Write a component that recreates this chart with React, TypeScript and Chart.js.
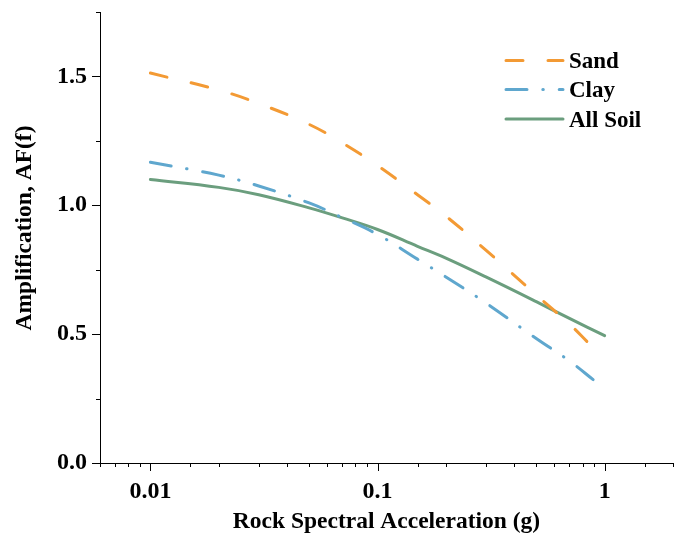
import React, { useEffect, useRef } from "react";
import { Chart, registerables } from "chart.js";

Chart.register(...registerables);

// ---- data ----
const sandAccel = [0.01, 0.02, 0.03, 0.05, 0.07, 0.1, 0.15, 0.2, 0.3, 0.5, 0.7, 0.85];
const sandAF = [1.513, 1.447, 1.395, 1.314, 1.242, 1.154, 1.041, 0.958, 0.826, 0.652, 0.539, 0.465];

const clayAccel = [0.01, 0.02, 0.03, 0.05, 0.07, 0.1, 0.15, 0.2, 0.3, 0.5, 0.7, 0.9];
const clayAF = [1.167, 1.117, 1.075, 1.009, 0.952, 0.887, 0.791, 0.722, 0.621, 0.483, 0.396, 0.32];

const allAccel = [0.01, 0.02, 0.03, 0.05, 0.07, 0.1, 0.15, 0.2, 0.3, 0.5, 0.7, 1.0];
const allAF = [1.1, 1.0695, 1.041, 0.99, 0.951, 0.906, 0.841, 0.795, 0.722, 0.626, 0.561, 0.494];

const seriesLabels = ["Sand", "Clay", "All Soil"];
const xTitle = "Rock Spectral Acceleration (g)";
const yTitle = "Amplification, AF(f)";

const FONT = "'Liberation Serif', 'Times New Roman', serif";

const toPoints = (xs: number[], ys: number[]) => xs.map((x, i) => ({ x, y: ys[i] }));

const isDecade = (v: number) => {
  const l = Math.log10(v);
  return Math.abs(l - Math.round(l)) < 1e-9;
};
const isHalf = (v: number) => Math.abs(v * 2 - Math.round(v * 2)) < 1e-9;

const tickMarks = {
  id: "tickMarks",
  afterDraw(chart: any) {
    const { ctx, chartArea } = chart;
    const xs = chart.scales.x;
    const ys = chart.scales.y;
    ctx.save();
    ctx.strokeStyle = "#000";
    ctx.lineWidth = 1;
    ctx.beginPath();
    xs.ticks.forEach((t: any) => {
      const px = Math.round(xs.getPixelForValue(t.value)) + 0.5;
      const len = isDecade(t.value) ? 8 : 4;
      ctx.moveTo(px, chartArea.bottom);
      ctx.lineTo(px, chartArea.bottom + len);
    });
    ys.ticks.forEach((t: any) => {
      const py = Math.round(ys.getPixelForValue(t.value)) + 0.5;
      const len = isHalf(t.value) ? 8 : 4;
      ctx.moveTo(chartArea.left, py);
      ctx.lineTo(chartArea.left - len, py);
    });
    ctx.stroke();
    ctx.restore();
  },
};

const yTitlePlugin = {
  id: "yTitlePlugin",
  afterDraw(chart: any) {
    const { ctx } = chart;
    ctx.save();
    ctx.translate(25, 228);
    ctx.rotate(-Math.PI / 2);
    ctx.fillStyle = "#000";
    ctx.font = `bold 23.5px ${FONT}`;
    ctx.textAlign = "center";
    ctx.textBaseline = "middle";
    ctx.fillText(yTitle, 0, 0);
    ctx.restore();
  },
};

const legendLines = {
  id: "legendLines",
  afterDraw(chart: any) {
    const { ctx } = chart;
    const x0 = 506;
    const x1 = 563;
    const rows = [60.5, 89.5, 119];
    ctx.save();
    chart.data.datasets.forEach((ds: any, i: number) => {
      const y = rows[i];
      ctx.beginPath();
      ctx.strokeStyle = ds.borderColor;
      ctx.lineWidth = ds.borderWidth;
      ctx.lineCap = "round";
      ctx.setLineDash(ds.borderDash || []);
      ctx.moveTo(x0, y);
      ctx.lineTo(x1, y);
      ctx.stroke();
      ctx.setLineDash([]);
      ctx.fillStyle = "#000";
      ctx.font = `bold 23px ${FONT}`;
      ctx.textAlign = "left";
      ctx.textBaseline = "middle";
      ctx.fillText(ds.label, 569, y + 2);
    });
    ctx.restore();
  },
};

export default function App() {
  const ref = useRef<HTMLCanvasElement>(null);
  useEffect(() => {
    const chart = new Chart(ref.current as HTMLCanvasElement, {
      type: "line",
      data: {
        datasets: [
          {
            label: seriesLabels[0],
            data: toPoints(sandAccel, sandAF),
            borderColor: "#F39A34",
            borderWidth: 3,
            borderDash: [17, 25],
            borderCapStyle: "round",
            pointRadius: 0,
            tension: 0.4,
            fill: false,
          },
          {
            label: seriesLabels[1],
            data: toPoints(clayAccel, clayAF),
            borderColor: "#5FA7CE",
            borderWidth: 3,
            borderDash: [21, 15.8, 0.5, 15.9],
            borderCapStyle: "round",
            pointRadius: 0,
            tension: 0.4,
            fill: false,
          },
          {
            label: seriesLabels[2],
            data: toPoints(allAccel, allAF),
            borderColor: "#6B9E7E",
            borderWidth: 3,
            borderCapStyle: "round",
            pointRadius: 0,
            tension: 0.4,
            fill: false,
          },
        ],
      } as any,
      options: {
        animation: false,
        responsive: false,
        devicePixelRatio: 1,
        layout: { padding: { left: 0, top: 12, right: 9, bottom: 0 } },
        plugins: {
          legend: { display: false },
          tooltip: { enabled: false },
        },
        scales: {
          x: {
            type: "logarithmic",
            min: 0.006,
            max: 2,
            grid: { display: false, drawTicks: false, tickLength: 0 },
            border: { display: true, color: "#000", width: 1 },
            ticks: {
              autoSkip: false,
              maxRotation: 0,
              padding: 14,
              color: "#000",
              font: { family: FONT, size: 24, weight: "bold" },
              callback: (v: any) => (isDecade(Number(v)) ? String(Number(v)) : ""),
            },
            title: {
              display: true,
              text: xTitle,
              color: "#000",
              font: { family: FONT, size: 23.5, weight: "bold" },
              padding: { top: 0, bottom: 3 },
            },
            afterFit: (s: any) => {
              s.height = 76;
              s.paddingLeft = 0;
              s.paddingRight = 0;
            },
          },
          y: {
            type: "linear",
            min: 0,
            max: 1.75,
            grid: { display: false, drawTicks: false, tickLength: 0 },
            border: { display: true, color: "#000", width: 1 },
            ticks: {
              stepSize: 0.25,
              autoSkip: false,
              padding: 13,
              color: "#000",
              font: { family: FONT, size: 24, weight: "bold" },
              callback: (v: any) => (isHalf(Number(v)) ? Number(v).toFixed(1) : ""),
            },
            title: { display: false },
            afterFit: (s: any) => {
              s.width = 100;
              s.paddingTop = 0;
              s.paddingBottom = 0;
            },
          },
        },
      } as any,
      plugins: [tickMarks, yTitlePlugin, legendLines],
    });
    return () => chart.destroy();
  }, []);
  return (
    <div style={{ position: "fixed", left: 0, top: 0, width: 682, height: 539, background: "#fff" }}>
      <canvas ref={ref} width={682} height={539} style={{ display: "block" }} />
    </div>
  );
}
